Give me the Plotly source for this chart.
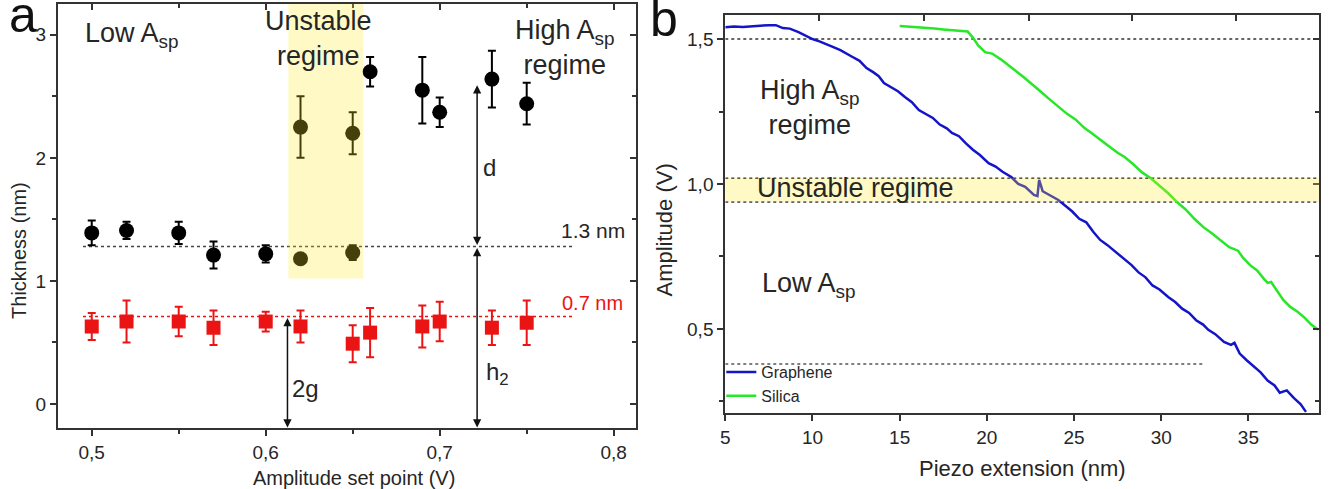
import plotly.graph_objects as go

# ---------------- data: panel a ----------------
black_x = [0.50, 0.52, 0.55, 0.57, 0.60, 0.62, 0.62, 0.65, 0.65, 0.66, 0.69, 0.70, 0.73, 0.75]
black_y = [1.39, 1.41, 1.39, 1.21, 1.22, 1.18, 2.25, 1.23, 2.20, 2.70, 2.55, 2.37, 2.64, 2.44]
black_err = [0.10, 0.07, 0.09, 0.11, 0.07, 0.03, 0.25, 0.06, 0.17, 0.12, 0.27, 0.12, 0.23, 0.17]

red_x = [0.50, 0.52, 0.55, 0.57, 0.60, 0.62, 0.65, 0.66, 0.69, 0.70, 0.73, 0.75]
red_y = [0.63, 0.67, 0.67, 0.62, 0.67, 0.63, 0.49, 0.58, 0.63, 0.67, 0.62, 0.66]
red_err = [0.11, 0.17, 0.12, 0.14, 0.08, 0.13, 0.15, 0.20, 0.17, 0.16, 0.14, 0.18]

level_black = 1.28
level_red = 0.71
level_span_a = [0.495, 0.777]
unstable_a_x = [0.613, 0.656]
unstable_a_ymin = 1.02

a_xticks = [0.5, 0.6, 0.7, 0.8]
a_xticktext = ["0,5", "0,6", "0,7", "0,8"]
a_yticks = [0, 1, 2, 3]
a_yticktext = ["0", "1", "2", "3"]

# ---------------- data: panel b ----------------
graphene_x = [5.0, 5.5, 6.0, 6.5, 7.0, 7.5, 7.9, 8.3, 8.7, 9.2, 9.6, 10.0, 10.4, 10.8, 11.2, 11.6,
              12.0, 12.3, 12.7, 13.1, 13.5, 13.8, 14.1, 14.5, 14.9, 15.3, 15.7, 16.1, 16.5, 16.9,
              17.3, 17.7, 18.0, 18.4, 18.8, 19.2, 19.6, 20.1, 20.5, 20.9, 21.4, 21.8, 22.2, 22.7,
              22.9, 23.0, 23.2, 23.6, 24.1, 24.5, 24.9, 25.3, 25.7, 26.1, 26.5, 26.9, 27.3, 27.9,
              28.3, 28.7, 29.1, 29.5, 29.9, 30.4, 30.8, 31.2, 31.6, 32.0, 32.4, 32.7, 33.1, 33.6,
              34.0, 34.2, 34.5, 34.9, 35.3, 35.7, 36.1, 36.5, 36.8, 37.2, 37.6, 38.0, 38.3]
graphene_y = [1.541, 1.543, 1.542, 1.545, 1.546, 1.548, 1.548, 1.538, 1.536, 1.524, 1.512, 1.500,
              1.492, 1.483, 1.472, 1.462, 1.447, 1.438, 1.425, 1.400, 1.385, 1.372, 1.348, 1.335,
              1.320, 1.300, 1.282, 1.255, 1.240, 1.228, 1.205, 1.192, 1.176, 1.165, 1.140, 1.118,
              1.100, 1.072, 1.060, 1.042, 1.024, 1.000, 0.990, 0.962, 0.958, 1.014, 0.975, 0.962,
              0.945, 0.925, 0.905, 0.880, 0.868, 0.835, 0.807, 0.790, 0.770, 0.738, 0.720, 0.695,
              0.678, 0.650, 0.636, 0.610, 0.593, 0.570, 0.555, 0.530, 0.515, 0.497, 0.482, 0.455,
              0.445, 0.452, 0.415, 0.392, 0.370, 0.350, 0.322, 0.305, 0.280, 0.288, 0.262, 0.240,
              0.214]

silica_x = [15.0, 15.5, 16.0, 16.5, 17.0, 17.5, 18.0, 18.5, 18.9, 19.2, 19.5, 19.9, 20.3, 20.8,
            21.3, 21.7, 22.1, 22.6, 23.1, 23.6, 24.1, 24.6, 25.1, 25.6, 26.0, 26.5, 27.0, 27.5,
            27.9, 28.4, 28.9, 29.4, 29.9, 30.4, 30.9, 31.4, 31.9, 32.4, 32.9, 33.4, 33.9, 34.4,
            34.7, 35.1, 35.5, 35.9, 36.1, 36.3, 36.7, 37.0, 37.4, 37.8, 38.2, 38.6, 39.0]
silica_y = [1.545, 1.543, 1.540, 1.540, 1.536, 1.533, 1.531, 1.529, 1.526, 1.505, 1.478, 1.455,
            1.450, 1.430, 1.405, 1.388, 1.369, 1.345, 1.318, 1.292, 1.266, 1.242, 1.222, 1.193,
            1.176, 1.152, 1.130, 1.108, 1.093, 1.068, 1.040, 1.020, 0.995, 0.968, 0.938, 0.912,
            0.880, 0.852, 0.830, 0.807, 0.782, 0.770, 0.745, 0.720, 0.702, 0.672, 0.659, 0.662,
            0.625, 0.600, 0.576, 0.560, 0.540, 0.515, 0.497]

b_level_top = 1.50
b_band = [0.938, 1.02]
b_level_low = 0.379
b_low_span = [5.0, 32.4]
b_xrange = [5.0, 39.05]

b_xticks = [5, 10, 15, 20, 25, 30, 35]
b_yticks = [0.5, 1.0, 1.5]
b_yticktext = ["0,5", "1,0", "1,5"]
b_top_ticks = [10.4, 16.4, 22.4, 28.3, 34.3]

# ---------------- figure ----------------
FONT = "Liberation Sans, Arial, sans-serif"
TXT = "#262626"
AX = "#333333"
RED = "rgb(235,20,20)"
BLUE = "rgb(20,20,200)"
GREEN = "rgb(40,230,40)"
YEL = "rgb(255,238,40)"

W, H = 1329, 489
def px(x):
    return x / W
def py(y):
    return 1 - y / H

fig = go.Figure()

# panel a dotted reference lines
fig.add_trace(go.Scatter(x=level_span_a, y=[level_black, level_black], mode="lines",
                         line=dict(color="#444444", width=1.5, dash="dot"), showlegend=False,
                         xaxis="x", yaxis="y", hoverinfo="skip"))
fig.add_trace(go.Scatter(x=level_span_a, y=[level_red, level_red], mode="lines",
                         line=dict(color=RED, width=1.5, dash="dot"), showlegend=False,
                         xaxis="x", yaxis="y", hoverinfo="skip"))
# panel a data
fig.add_trace(go.Scatter(x=black_x, y=black_y, mode="markers",
                         marker=dict(symbol="circle", size=15, color="black"),
                         error_y=dict(type="data", array=black_err, color="black", thickness=2, width=4),
                         showlegend=False, xaxis="x", yaxis="y"))
fig.add_trace(go.Scatter(x=red_x, y=red_y, mode="markers",
                         marker=dict(symbol="square", size=14, color=RED),
                         error_y=dict(type="data", array=red_err, color=RED, thickness=2, width=4),
                         showlegend=False, xaxis="x", yaxis="y"))
fig.add_trace(go.Scatter(x=[], y=[], xaxis="x3", yaxis="y3", showlegend=False))

# panel b dotted lines
for lv in [b_level_top, b_band[0], b_band[1]]:
    fig.add_trace(go.Scatter(x=b_xrange, y=[lv, lv], mode="lines",
                             line=dict(color="#333333", width=1.5, dash="dot"), showlegend=False,
                             xaxis="x2", yaxis="y2", hoverinfo="skip"))
fig.add_trace(go.Scatter(x=b_low_span, y=[b_level_low, b_level_low], mode="lines",
                         line=dict(color="#555555", width=1.3, dash="dot"), showlegend=False,
                         xaxis="x2", yaxis="y2", hoverinfo="skip"))
fig.add_trace(go.Scatter(x=graphene_x, y=graphene_y, mode="lines", name="Graphene",
                         line=dict(color=BLUE, width=2.5), xaxis="x2", yaxis="y2"))
fig.add_trace(go.Scatter(x=silica_x, y=silica_y, mode="lines", name="Silica",
                         line=dict(color=GREEN, width=2.5), xaxis="x2", yaxis="y2"))
fig.add_trace(go.Scatter(x=[], y=[], xaxis="x4", yaxis="y4", showlegend=False))

# shaded unstable regions (drawn above the data, semi-transparent)
fig.add_shape(type="rect", xref="x", yref="y", x0=unstable_a_x[0], x1=unstable_a_x[1],
              y0=unstable_a_ymin, y1=3.25, fillcolor=YEL, opacity=0.27, line_width=0, layer="above")
fig.add_shape(type="rect", xref="x2", yref="y2", x0=b_xrange[0], x1=b_xrange[1],
              y0=b_band[0], y1=b_band[1], fillcolor=YEL, opacity=0.27, line_width=0, layer="above")

TICKSIZE = 19
tickfont = dict(family=FONT, size=TICKSIZE, color=TXT)
common = dict(showline=True, linecolor=AX, linewidth=2, mirror=True, ticks="outside",
              tickcolor=AX, tickwidth=1.5, ticklen=6, showgrid=False, zeroline=False,
              tickfont=tickfont)

dom_a_x = [px(53), px(633)]
dom_a_y = [py(428), py(4)]
dom_b_x = [px(723), px(1319)]
dom_b_y = [py(413), py(15)]

a_xr = [0.4805, 0.8126]
a_yr = [-0.195, 3.25]
b_yr = [0.210, 1.583]

fig.update_layout(
    width=W, height=H, margin=dict(l=0, r=0, t=0, b=0),
    paper_bgcolor="white", plot_bgcolor="white",
    font=dict(family=FONT, color=TXT),
    xaxis=dict(domain=dom_a_x, range=a_xr, anchor="y", tickvals=a_xticks, ticktext=a_xticktext,
               minor=dict(dtick=0.05, tick0=0.5, ticks="outside", ticklen=4, tickcolor=AX),
               **common),
    yaxis=dict(domain=dom_a_y, range=a_yr, anchor="x", tickvals=a_yticks, ticktext=a_yticktext,
               minor=dict(dtick=0.5, tick0=0, ticks="outside", ticklen=4, tickcolor=AX),
               **common),
    xaxis3=dict(overlaying="x", anchor="y", side="top", range=a_xr, showline=False,
                ticks="inside", ticklen=6, tickcolor=AX, tickwidth=1.5, tickvals=a_xticks,
                showticklabels=False, showgrid=False, zeroline=False,
                minor=dict(dtick=0.05, tick0=0.5, ticks="inside", ticklen=4, tickcolor=AX)),
    yaxis3=dict(overlaying="y", anchor="x", side="right", range=a_yr, showline=False,
                ticks="inside", ticklen=6, tickcolor=AX, tickwidth=1.5, tickvals=a_yticks,
                showticklabels=False, showgrid=False, zeroline=False,
                minor=dict(dtick=0.5, tick0=0, ticks="inside", ticklen=4, tickcolor=AX)),
    xaxis2=dict(domain=dom_b_x, range=b_xrange, anchor="y2", tickvals=b_xticks, **common),
    yaxis2=dict(domain=dom_b_y, range=b_yr, anchor="x2", tickvals=b_yticks, ticktext=b_yticktext,
                minor=dict(dtick=0.25, tick0=0, ticks="outside", ticklen=4, tickcolor=AX),
                **common),
    xaxis4=dict(overlaying="x2", anchor="y2", side="top", range=b_xrange, showline=False,
                ticks="inside", ticklen=6, tickcolor=AX, tickwidth=1.5, tickvals=b_top_ticks,
                showticklabels=False, showgrid=False, zeroline=False),
    yaxis4=dict(overlaying="y2", anchor="x2", side="right", range=b_yr, showline=False,
                ticks="inside", ticklen=6, tickcolor=AX, tickwidth=1.5, tickvals=b_yticks,
                showticklabels=False, showgrid=False, zeroline=False,
                minor=dict(dtick=0.25, tick0=0, ticks="inside", ticklen=4, tickcolor=AX)),
    legend=dict(x=px(719), y=py(355), xanchor="left", yanchor="top", bgcolor="rgba(0,0,0,0)",
                font=dict(family=FONT, size=16, color=TXT), itemwidth=30, tracegroupgap=0),
)

def ann(text, x, y, xref, yref, size, color=TXT, xanchor="center", yanchor="middle", angle=0):
    fig.add_annotation(text=text, x=x, y=y, xref=xref, yref=yref, showarrow=False,
                       font=dict(family=FONT, size=size, color=color),
                       xanchor=xanchor, yanchor=yanchor, textangle=angle)

# panel letters
ann("a", px(18), py(15), "paper", "paper", 50, color="#111111")
ann("b", px(661), py(19), "paper", "paper", 50, color="#111111")

# axis titles
ann("Amplitude set point (V)", px(350), py(478), "paper", "paper", 20)
ann("Thickness (nm)", px(14), py(250), "paper", "paper", 20, angle=-90)
ann("Piezo extension (nm)", px(1021), py(468), "paper", "paper", 22)
ann("Amplitude (V)", px(661), py(230), "paper", "paper", 22, angle=-90)

# panel a texts
ann("Low A<sub>sp</sub>", px(78), py(35), "paper", "paper", 27, xanchor="left")
ann("Unstable<br>regime", px(315), py(38), "paper", "paper", 27)
ann("High A<sub>sp</sub><br>regime", px(510), py(48), "paper", "paper", 27, xanchor="left")
ann("1.3 nm", 0.788, 1.41, "x", "y", 21)
ann("0.7 nm", 0.788, 0.82, "x", "y", 20, color=RED)
ann("2g", 0.6226, 0.13, "x", "y", 24)
ann("d", 0.7287, 1.92, "x", "y", 24)
ann("h<sub>2</sub>", 0.733, 0.25, "x", "y", 24)

# double arrows in panel a
arrows_a = [(0.6125, level_red, -0.19), (0.7215, level_black, 2.59), (0.7215, level_black, -0.19)]
for xa, y0, y1 in arrows_a:
    fig.add_annotation(x=xa, y=y1, ax=xa, ay=y0, xref="x", yref="y", axref="x", ayref="y",
                       showarrow=True, arrowhead=2, arrowsize=1.1, arrowwidth=1.5,
                       arrowcolor="#111111", arrowside="end+start", text="")

# panel b texts
ann("High A<sub>sp</sub><br>regime", px(756), py(107), "paper", "paper", 27, xanchor="left")
ann("Unstable regime", px(753), py(188), "paper", "paper", 27, xanchor="left")
ann("Low A<sub>sp</sub>", px(758), py(285), "paper", "paper", 27, xanchor="left")

fig.write_html("out.html")
